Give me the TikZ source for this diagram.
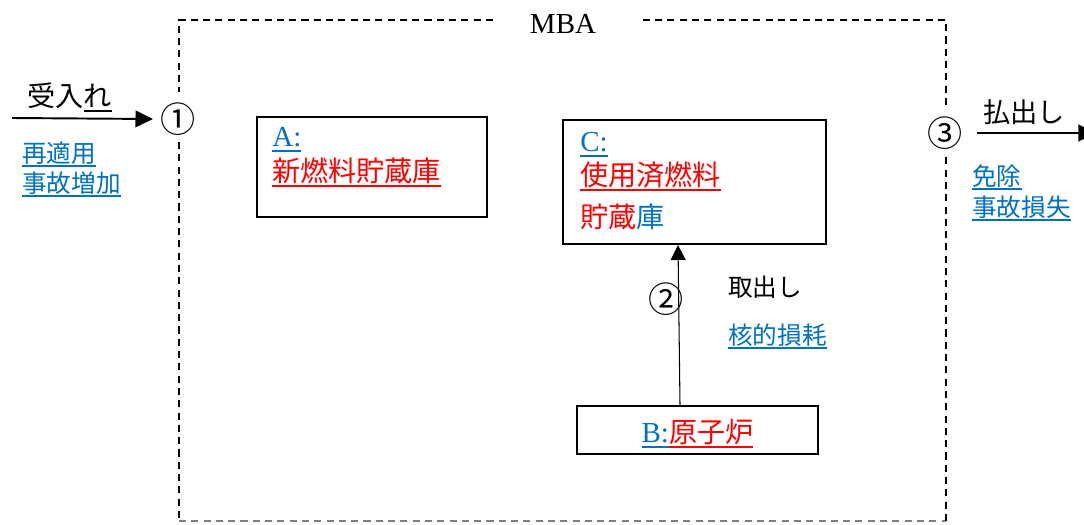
\documentclass[tikz,border=0pt]{standalone}
\usepackage{fontspec}
\setmainfont{Liberation Serif}
\newfontfamily\jp{Noto Sans CJK JP}
\usetikzlibrary{arrows.meta}
\definecolor{ublue}{HTML}{0070C0}
\definecolor{ured}{HTML}{FF0000}
\newcommand\myul[1]{\setbox0\hbox{#1}\rlap{\smash{\rule[-0.2em]{\wd0}{1.1pt}}}\box0}
\begin{document}
\begin{tikzpicture}[x=0.02cm,y=-0.02cm,
  sm/.style={inner sep=0, anchor=west, font=\jp\fontsize{14}{17}\selectfont},
  bg/.style={inner sep=0, anchor=west, font=\jp\fontsize{16}{19}\selectfont},
  num/.style={inner sep=0, font=\jp\fontsize{20}{24}\selectfont},
  box/.style={draw, line width=1.2pt, inner sep=0},
  dsh/.style={line width=0.9pt, dash pattern=on 4pt off 3pt},
  thickarrow/.style={line width=1.1pt, -{Triangle[length=10pt,width=9.5pt]}},
  thinarrow/.style={line width=0.6pt, -{Triangle[length=8.5pt,width=8.5pt]}}]
\useasboundingbox (0,0) rectangle (1084,524);

% MBA dashed frame
\node[inner sep=0, font=\fontsize{16.5}{19}\selectfont] (mba) at (563,24) {MBA};
\draw[dsh] (493,20) -- (179,20) -- (179,92);
\draw[dsh] (179,142) -- (179,521);
\draw[dsh, gray] (179,521) -- (946,521);
\draw[dsh] (946,521) -- (946,155);
\draw[dsh] (946,105) -- (946,20) -- (640,20);

% circled numbers
\node[num] (c1) at (178,119) {①};
\node[num] (c2) at (666,299) {②};
\node[num] (c3) at (945,133) {③};

% boxes
\node[box, minimum width=4.6cm, minimum height=2cm] (A) at (372,167) {};
\node[box, minimum width=5.26cm, minimum height=2.48cm] (C) at (694.5,182) {};
\node[box, minimum width=4.82cm, minimum height=0.96cm] (B) at (697.5,430) {};

% box texts
\node[bg, font=\fontsize{16.5}{19}\selectfont, text=ublue] (tA1) at (272,137) {\myul{A:}};
\node[bg, text=ured] (tA2) at (272,171) {\myul{新燃料貯蔵庫}};
\node[bg, font=\fontsize{16.5}{19}\selectfont, text=ublue] (tC1) at (580,142) {\myul{C:}};
\node[bg, text=ured] (tC2) at (580,175) {\myul{使用済燃料}};
\node[bg] (tC3) at (580,217) {\textcolor{ured}{貯蔵}\textcolor{ublue}{庫}};
\node[bg, anchor=center] (tB) at (697.5,432) {\textcolor{ublue}{\myul{\rmfamily\fontsize{16.5}{19}\selectfont B:}}\textcolor{ured}{\myul{原子炉}}};

% inflow
\coordinate (inL) at (12,118);
\draw[thickarrow] (inL) -- ([xshift=-4pt]c1.west);
\node[bg] (rcv) at (27,96) {受入\myul{れ}};
\node[sm, text=ublue] (rea1) at (22,153) {\myul{再適用}};
\node[sm, text=ublue] (rea2) at (22,183) {\myul{事故増加}};

% outflow
\coordinate (outR) at (1096,133);
\draw[thickarrow] ([xshift=8pt]c3.east) -- (outR);
\node[bg, font=\jp\fontsize{15.5}{18}\selectfont] (out1) at (983,112) {払出し};
\node[sm, text=ublue] (ex1) at (972,176) {\myul{免除}};
\node[sm, text=ublue] (ex2) at (972,207) {\myul{事故損失}};

% internal transfer
\draw[thinarrow] (680,0 |- B.north) -- (678,0 |- C.south);
\node[sm] (take) at (728,287) {取出し};
\node[sm, text=ublue] (loss) at (728,335) {\myul{核的損耗}};
\end{tikzpicture}
\end{document}
